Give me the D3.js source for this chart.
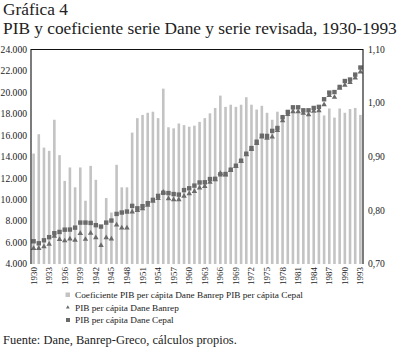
<!DOCTYPE html>
<html>
<head>
<meta charset="utf-8">
<script src="https://cdn.jsdelivr.net/npm/d3@7"></script>
<style>
  html, body { margin: 0; padding: 0; background: #fff; }
  svg { display: block; }
  text { font-family: "Liberation Serif", "DejaVu Serif", serif; fill: #222; }
</style>
</head>
<body>
<svg id="chart" width="400" height="349"></svg>
<script>
// Years 1930–1993
const years = d3.range(1930, 1994);

// Coeficiente PIB per cápita Dane Banrep / PIB per cápita Cepal (right axis)
const coeficiente = [
  0.906, 0.942, 0.917, 0.911, 0.969, 0.903, 0.855, 0.880, 0.843, 0.880,
  0.818, 0.883, 0.857, 0.770, 0.823, 0.796, 0.885, 0.843, 0.843, 0.945,
  0.972, 0.978, 0.982, 0.984, 0.972, 1.027, 0.955, 0.953, 0.962, 0.959,
  0.956, 0.958, 0.965, 0.972, 0.981, 0.991, 1.014, 0.993, 0.997, 0.993,
  0.997, 1.011, 0.997, 0.988, 0.995, 0.982, 0.969, 0.984, 0.978, 0.984,
  0.990, 0.986, 0.982, 0.978, 0.982, 0.985, 0.977, 0.990, 0.973, 0.990,
  0.982, 0.989, 0.991, 0.978
];

// PIB per cápita Dane Banrep (left axis)
const pibBanrep = [
  5520, 5520, 5680, 5900, 6650, 6340, 6220, 6400, 6270, 6900,
  6360, 6920, 6520, 5780, 6500, 6400, 7710, 7430, 7430, 8920,
  9050, 9210, 9540, 9920, 10170, 10750, 10140, 10050, 10050, 10370,
  10610, 10820, 11150, 11290, 11690, 11920, 12500, 12360, 12780, 13160,
  13630, 14250, 14750, 15310, 15900, 15780, 15900, 16500, 17410, 18000,
  18270, 18270, 18130, 17970, 18300, 18350, 18920, 19770, 19600, 20450,
  20730, 20980, 21410, 21970
];

// PIB per cápita Dane Cepal (left axis)
const pibCepal = [
  6120, 5930, 6210, 6500, 6870, 6990, 7200, 7210, 7390, 7860,
  7860, 7830, 7620, 7490, 7860, 8050, 8670, 8800, 8890, 9420,
  9190, 9390, 9670, 9980, 10350, 10640, 10610, 10520, 10470, 10890,
  11060, 11310, 11600, 11620, 11920, 11940, 12360, 12390, 12790, 13160,
  13630, 14280, 14810, 15400, 15960, 15940, 16410, 16680, 17690, 18180,
  18610, 18610, 18330, 18330, 18550, 18650, 19360, 19980, 20030, 20510,
  21060, 21200, 21660, 22320
];

const leftTicks = d3.range(4000, 24001, 2000);
const rightTicks = [0.70, 0.80, 0.90, 1.00, 1.10];
const yearTicks = d3.range(1930, 1994, 3);

const seriesNames = [
  "Coeficiente PIB per cápita Dane Banrep PIB per cápita Cepal",
  "PIB per cápita Dane Banrep",
  "PIB per cápita Dane Cepal"
];

const barColor = "#c3c3c3";
const markColor = "#6a6a6a";

const svg = d3.select("#chart");
const plot = { left: 31, right: 363, top: 49.5, bottom: 264 };

const x = d3.scaleBand().domain(years).range([plot.left, plot.right]).paddingInner(0.5).paddingOuter(0.25);
const yL = d3.scaleLinear().domain([4000, 24000]).range([plot.bottom, plot.top]);
const yR = d3.scaleLinear().domain([0.70, 1.10]).range([plot.bottom, plot.top]);
const cx = yr => x(yr) + x.bandwidth() / 2;

const numL = d3.formatLocale({ decimal: ",", thousands: ".", grouping: [3] }).format(",.0f");
const numR = d3.formatLocale({ decimal: ",", thousands: ".", grouping: [3] }).format(".2f");

// fit a text element to a given width by adjusting its font size
function fitWidth(sel, w) {
  const node = sel.node();
  const fs = parseFloat(sel.attr("font-size"));
  const len = node.getComputedTextLength();
  if (len > 0) sel.attr("font-size", (fs * w / len).toFixed(2));
}

// titles
fitWidth(svg.append("text").attr("x", 3).attr("y", 15).attr("font-size", 15).text("Gráfica 4"), 65);
fitWidth(svg.append("text").attr("x", 3).attr("y", 33.5).attr("font-size", 15)
  .text("PIB y coeficiente serie Dane y serie revisada, 1930-1993"), 394);

// bars (coefficient)
svg.append("g").selectAll("rect").data(years).join("rect")
  .attr("x", d => x(d))
  .attr("width", x.bandwidth())
  .attr("y", (d, i) => yR(coeficiente[i]))
  .attr("height", (d, i) => yR(0.70) - yR(coeficiente[i]))
  .attr("fill", barColor);

// squares: Cepal
const sq = 4.4;
svg.append("g").selectAll("rect").data(years).join("rect")
  .attr("x", d => cx(d) - sq / 2)
  .attr("y", (d, i) => yL(pibCepal[i]) - sq / 2)
  .attr("width", sq).attr("height", sq)
  .attr("fill", markColor);

// triangles: Banrep
const tri = d3.symbol().type(d3.symbolTriangle).size(13);
svg.append("g").selectAll("path").data(years).join("path")
  .attr("transform", (d, i) => `translate(${cx(d)},${yL(pibBanrep[i]) + 0.6})`)
  .attr("d", tri)
  .attr("fill", markColor);

// frame
svg.append("path")
  .attr("d", `M${plot.left},${plot.bottom}V${plot.top}H${plot.right}V${plot.bottom}`)
  .attr("fill", "none").attr("stroke", "#111").attr("stroke-width", 1.1);

// left axis labels
svg.append("g").selectAll("text").data(leftTicks).join("text")
  .attr("x", 27).attr("y", d => yL(d) + 3.3)
  .attr("text-anchor", "end").attr("font-size", 9.6)
  .text(d => numL(d));

// right axis labels
svg.append("g").selectAll("text").data(rightTicks).join("text")
  .attr("x", 368).attr("y", d => yR(d) + 3.3)
  .attr("font-size", 9.6)
  .text(d => numR(d));

// year labels, rotated
svg.append("g").selectAll("text").data(yearTicks).join("text")
  .attr("transform", d => `translate(${cx(d) + 3},${plot.bottom + 3}) rotate(-90)`)
  .attr("text-anchor", "end").attr("font-size", 9)
  .text(d => d);

// legend
const lg = svg.append("g");
const rowY = [295, 307.5, 320];
lg.append("rect").attr("x", 65.5).attr("y", rowY[0] - 2.5).attr("width", 4.5).attr("height", 4.5).attr("fill", barColor);
lg.append("path").attr("transform", `translate(67.8,${rowY[1]})`).attr("d", d3.symbol().type(d3.symbolTriangle).size(6)).attr("fill", markColor);
lg.append("rect").attr("x", 66).attr("y", rowY[2] - 2).attr("width", 4).attr("height", 4).attr("fill", markColor);
const lt = lg.selectAll("text").data(seriesNames).join("text")
  .attr("x", 75).attr("y", (d, i) => rowY[i] + 3)
  .attr("font-size", 9)
  .text(d => d);
fitWidth(d3.select(lt.nodes()[0]), 228);
const fsLeg = d3.select(lt.nodes()[0]).attr("font-size");
lt.attr("font-size", fsLeg);

// source
fitWidth(svg.append("text").attr("x", 3).attr("y", 343.5).attr("font-size", 11)
  .text("Fuente: Dane, Banrep-Greco, cálculos propios."), 234);
</script>
</body>
</html>
